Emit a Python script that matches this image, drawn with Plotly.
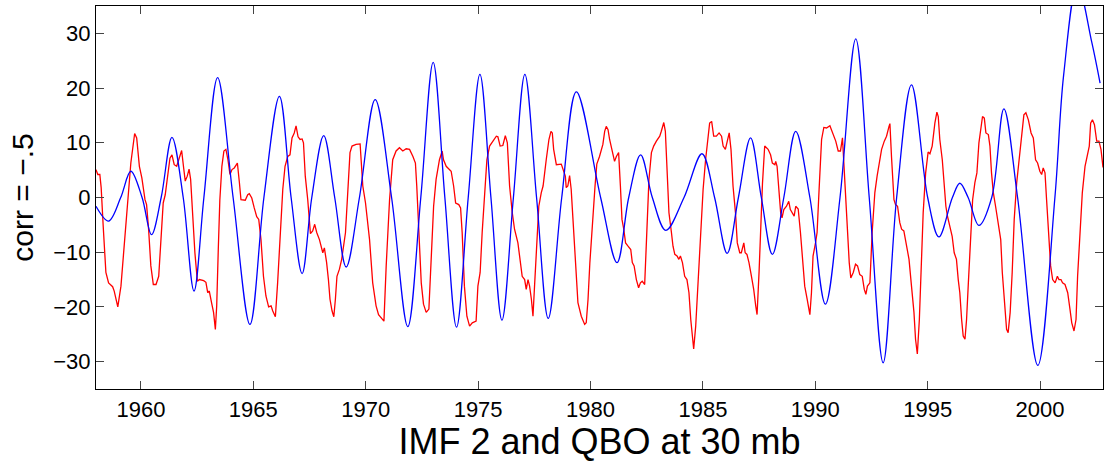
import plotly.graph_objects as go

# IMF 2 (smooth, blue): year, value
blue_year = [1958.0, 1958.56, 1959.1, 1959.55, 1960.05, 1960.47, 1960.9, 1961.38, 1961.88, 1962.36,
             1962.8, 1963.41, 1964.1, 1964.85, 1965.47, 1966.16, 1966.68, 1967.17, 1967.6, 1968.13,
             1968.62, 1969.13, 1969.72, 1970.42, 1971.15, 1971.87, 1972.45, 1973.0, 1973.52, 1974.04,
             1974.56, 1975.08, 1975.57, 1976.06, 1976.57, 1977.08, 1977.6, 1978.12, 1978.72, 1979.37,
             1980.45, 1981.18, 1981.7, 1982.23, 1982.75, 1983.35, 1984.16, 1984.96, 1985.52, 1986.08,
             1986.58, 1987.12, 1987.6, 1988.09, 1988.6, 1989.13, 1989.76, 1990.45, 1991.1, 1991.8,
             1992.4, 1993.02, 1993.62, 1994.28, 1995.0, 1995.5, 1996.1, 1996.43, 1996.8, 1997.28,
             1997.85, 1998.39, 1999.0, 1999.9, 2000.66, 2001.05, 2001.66, 2002.3, 2002.67]
blue_val = [-1.6, -4.3, 0.0, 4.8, 0.0, -6.8, 0.0, 11.0, 0.0, -17.1,
            0.0, 21.9, 0.0, -23.2, 0.0, 18.5, 0.0, -13.9, 0.0, 11.3,
            0.0, -12.7, 0.0, 17.9, 0.0, -23.6, 0.0, 24.7, 0.0, -23.7,
            0.0, 22.5, 0.0, -22.4, 0.0, 22.5, 0.0, -22.1, 0.0, 19.3,
            0.0, -11.9, 0.0, 7.8, 0.0, -6.0, 0.0, 8.0, 0.0, -10.2,
            0.0, 10.9, 0.0, -10.4, 0.0, 12.1, 0.0, -19.5, 0.0, 29.0,
            0.0, -30.2, 0.0, 20.6, 0.0, -7.2, 0.0, 2.6, 0.0, -5.1,
            0.0, 16.2, 0.0, -30.7, 0.0, 22.4, 39.0, 28.4, 20.9]

# QBO at 30 mb (red): year, value
red_year = [1958.0, 1958.08, 1958.17, 1958.23, 1958.32, 1958.44, 1958.56, 1958.74, 1958.81, 1958.97,
            1959.11, 1959.26, 1959.41, 1959.55, 1959.72, 1959.81, 1959.93, 1960.04, 1960.18, 1960.25,
            1960.34, 1960.44, 1960.55, 1960.67, 1960.79, 1960.89, 1960.99, 1961.08, 1961.2, 1961.29,
            1961.38, 1961.48, 1961.59, 1961.71, 1961.81, 1961.9, 1961.97, 1962.06, 1962.14, 1962.21,
            1962.3, 1962.4, 1962.51, 1962.6, 1962.79, 1962.89, 1962.97, 1963.04, 1963.14, 1963.23,
            1963.31, 1963.37, 1963.44, 1963.51, 1963.6, 1963.69, 1963.78, 1963.87, 1963.96, 1964.05,
            1964.15, 1964.29, 1964.38, 1964.45, 1964.64, 1964.75, 1964.82, 1964.93, 1965.04, 1965.15,
            1965.24, 1965.34, 1965.45, 1965.56, 1965.68, 1965.79, 1965.86, 1965.98, 1966.08, 1966.19,
            1966.31, 1966.41, 1966.53, 1966.63, 1966.72, 1966.82, 1966.9, 1966.99, 1967.08, 1967.17,
            1967.23, 1967.31, 1967.42, 1967.54, 1967.64, 1967.73, 1967.82, 1967.94, 1968.03, 1968.09,
            1968.16, 1968.26, 1968.34, 1968.41, 1968.5, 1968.58, 1968.65, 1968.72, 1968.83, 1968.93,
            1969.1, 1969.2, 1969.3, 1969.39, 1969.57, 1969.75, 1969.87, 1969.99, 1970.17, 1970.31,
            1970.46, 1970.57, 1970.68, 1970.81, 1970.91, 1971.06, 1971.2, 1971.35, 1971.5, 1971.65,
            1971.8, 1971.95, 1972.1, 1972.21, 1972.27, 1972.36, 1972.47, 1972.57, 1972.69, 1972.81,
            1972.91, 1973.02, 1973.13, 1973.28, 1973.4, 1973.46, 1973.58, 1973.8, 1973.91, 1974.0,
            1974.14, 1974.22, 1974.29, 1974.39, 1974.5, 1974.62, 1974.74, 1974.91, 1974.99, 1975.09,
            1975.18, 1975.29, 1975.39, 1975.51, 1975.66, 1975.81, 1975.88, 1975.98, 1976.1, 1976.21,
            1976.3, 1976.4, 1976.52, 1976.62, 1976.77, 1976.87, 1976.96, 1977.07, 1977.14, 1977.22,
            1977.29, 1977.37, 1977.44, 1977.51, 1977.62, 1977.7, 1977.81, 1977.89, 1978.03, 1978.15,
            1978.24, 1978.3, 1978.36, 1978.48, 1978.7, 1978.77, 1978.88, 1978.92, 1978.99, 1979.07,
            1979.14, 1979.22, 1979.34, 1979.44, 1979.59, 1979.74, 1979.81, 1979.89, 1979.97, 1980.1,
            1980.2, 1980.28, 1980.4, 1980.55, 1980.63, 1980.7, 1980.78, 1980.85, 1980.93, 1981.0,
            1981.07, 1981.15, 1981.25, 1981.33, 1981.4, 1981.48, 1981.56, 1981.67, 1981.79, 1981.86,
            1981.94, 1982.04, 1982.14, 1982.22, 1982.3, 1982.41, 1982.51, 1982.6, 1982.71, 1982.81,
            1982.93, 1983.08, 1983.15, 1983.26, 1983.33, 1983.41, 1983.49, 1983.6, 1983.67, 1983.75,
            1983.85, 1983.93, 1984.0, 1984.09, 1984.19, 1984.29, 1984.38, 1984.46, 1984.53, 1984.59,
            1984.68, 1984.79, 1984.9, 1985.01, 1985.12, 1985.23, 1985.3, 1985.39, 1985.48, 1985.6,
            1985.72, 1985.83, 1985.9, 1986.0, 1986.08, 1986.17, 1986.25, 1986.34, 1986.45, 1986.53,
            1986.64, 1986.71, 1986.82, 1986.88, 1986.96, 1987.05, 1987.16, 1987.26, 1987.35, 1987.41,
            1987.5, 1987.58, 1987.65, 1987.75, 1987.9, 1988.01, 1988.09, 1988.2, 1988.24, 1988.3,
            1988.39, 1988.46, 1988.52, 1988.6, 1988.72, 1988.82, 1988.89, 1988.98, 1989.06, 1989.13,
            1989.24, 1989.34, 1989.43, 1989.53, 1989.64, 1989.76, 1989.83, 1989.9, 1990.01, 1990.08,
            1990.17, 1990.28, 1990.38, 1990.5, 1990.65, 1990.72, 1990.82, 1990.91, 1991.02, 1991.12,
            1991.21, 1991.31, 1991.42, 1991.51, 1991.58, 1991.69, 1991.79, 1991.88, 1991.98, 1992.09,
            1992.18, 1992.25, 1992.32, 1992.43, 1992.53, 1992.65, 1992.75, 1992.84, 1992.95, 1993.07,
            1993.17, 1993.28, 1993.32, 1993.39, 1993.5, 1993.57, 1993.66, 1993.76, 1993.84, 1993.94,
            1994.06, 1994.17, 1994.28, 1994.39, 1994.46, 1994.54, 1994.63, 1994.73, 1994.8, 1994.91,
            1995.02, 1995.1, 1995.2, 1995.32, 1995.41, 1995.47, 1995.54, 1995.65, 1995.74, 1995.81,
            1995.88, 1995.99, 1996.09, 1996.18, 1996.28, 1996.36, 1996.43, 1996.51, 1996.58, 1996.66,
            1996.73, 1996.81, 1996.91, 1997.0, 1997.1, 1997.19, 1997.28, 1997.37, 1997.44, 1997.52,
            1997.59, 1997.7, 1997.77, 1997.84, 1997.92, 1998.02, 1998.14, 1998.25, 1998.32, 1998.44,
            1998.51, 1998.58, 1998.67, 1998.76, 1998.85, 1998.96, 1999.07, 1999.18, 1999.28, 1999.37,
            1999.48, 1999.6, 1999.7, 1999.8, 1999.89, 1999.99, 2000.07, 2000.14, 2000.22, 2000.29,
            2000.37, 2000.47, 2000.56, 2000.67, 2000.77, 2000.84, 2000.93, 2001.0, 2001.11, 2001.23,
            2001.33, 2001.41, 2001.51, 2001.6, 2001.67, 2001.78, 2001.88, 2002.0, 2002.12, 2002.19,
            2002.25, 2002.33, 2002.42, 2002.52, 2002.62, 2002.71, 2002.8]
red_val = [5.1, 4.2, 4.2, 1.8, -5.2, -13.7, -15.6, -16.3, -17.1, -20.0,
           -16.2, -8.3, -0.4, 6.3, 11.7, 10.9, 5.7, 3.6, -0.4, -1.3,
           -5.8, -12.5, -15.9, -15.9, -14.4, -7.7, -1.0, 0.5, 4.5, 7.2,
           7.8, 6.0, 5.7, 7.5, 8.6, 5.4, 3.0, 3.9, 5.2, 3.3,
           -3.4, -10.1, -15.3, -15.0, -15.2, -15.5, -17.4, -17.1, -19.2, -21.0,
           -24.1, -19.8, -9.5, -0.4, 5.7, 8.5, 8.8, 6.9, 4.2, 5.1,
           5.4, 6.3, 2.7, -0.4, -0.5, 0.5, 0.7, -0.1, -1.9, -3.5,
           -4.0, -7.7, -14.4, -18.0, -20.0, -19.8, -20.7, -21.8, -15.6, -6.4,
           1.5, 5.7, 7.5, 7.8, 10.9, 11.8, 13.1, 11.1, 10.6, 10.7,
           10.0, 3.9, -0.4, -6.6, -6.1, -4.9, -6.4, -7.7, -8.9, -10.1,
           -9.2, -11.9, -15.0, -18.6, -20.7, -21.8, -18.6, -14.4, -13.1, -11.3,
           -6.4, 2.1, 8.2, 9.4, 9.7, 9.8, 2.1, -1.0, -7.7, -15.6,
           -19.8, -21.4, -22.0, -22.6, -12.5, -0.4, 6.9, 8.5, 9.1, 8.5,
           8.9, 8.8, 7.5, 6.3, 2.1, -6.4, -15.6, -19.5, -21.0, -20.4,
           -12.5, -1.6, 3.3, 6.9, 8.5, 6.9, 5.7, 4.8, 2.1, -1.0,
           -1.3, -1.9, -6.4, -16.2, -21.7, -23.5, -22.9, -22.6, -16.2, -13.7,
           -6.4, 0.9, 6.9, 9.4, 10.3, 11.2, 11.1, 9.4, 9.5, 11.3,
           10.0, 2.1, -2.8, -5.8, -8.3, -11.3, -14.4, -15.0, -16.8, -15.0,
           -16.2, -18.6, -21.7, -16.2, -6.4, -1.6, 0.9, 2.1, 6.9, 10.6,
           12.1, 11.8, 8.8, 6.0, 6.1, 5.1, 3.9, 1.8, 2.1, 4.0,
           1.5, -4.0, -13.1, -19.2, -21.7, -23.2, -22.9, -18.6, -12.0, -3.0,
           2.0, 6.1, 7.5, 9.7, 12.1, 13.0, 12.4, 10.6, 9.1, 8.2,
           6.6, 7.5, 8.2, 2.1, -4.0, -5.8, -8.3, -8.9, -9.5, -11.9,
           -12.5, -15.0, -16.5, -15.6, -15.3, -15.9, -5.2, 3.3, 8.2, 9.4,
           10.3, 11.2, 12.1, 13.7, 12.1, 4.5, -2.8, -6.4, -8.9, -10.4,
           -10.7, -11.3, -10.7, -11.9, -14.4, -15.0, -17.4, -22.3, -25.9, -27.7,
           -23.5, -15.6, -6.4, 1.5, 6.9, 11.8, 13.6, 13.9, 11.2, 11.2,
           11.8, 11.2, 9.4, 8.8, 10.0, 11.8, 8.8, 2.1, -2.8, -8.3,
           -10.1, -10.1, -8.3, -10.1, -10.4, -11.9, -14.4, -16.8, -19.8, -21.4,
           -13.5, -3.0, 2.5, 9.4, 8.8, 7.8, 6.3, 6.0, 6.6, 5.7,
           0.9, -2.8, -3.7, -2.2, -1.6, -0.7, -2.2, -2.8, -3.4, -1.6,
           -2.1, -6.4, -11.3, -16.2, -18.6, -21.4, -17.4, -10.7, -8.3, -6.4,
           1.5, 10.6, 12.8, 12.7, 13.1, 12.4, 11.2, 10.3, 8.5, 8.5,
           10.9, 3.3, -5.2, -11.9, -14.7, -13.7, -12.2, -12.5, -14.1, -14.4,
           -16.8, -17.7, -16.2, -15.6, -6.4, 0.9, 3.9, 6.3, 8.8, 10.3,
           11.2, 13.0, 13.5, 7.5, -0.4, -1.3, -1.6, -4.6, -5.8, -6.1,
           -8.9, -11.3, -16.2, -21.0, -25.9, -28.6, -22.3, -12.5, -2.8, 4.5,
           8.3, 8.0, 9.4, 13.6, 15.6, 14.8, 10.6, 6.9, 2.1, -1.6,
           -3.4, -5.2, -7.1, -10.1, -11.3, -15.0, -17.4, -22.3, -25.3, -25.9,
           -22.3, -15.6, -6.4, -0.4, 2.7, 4.5, 10.0, 13.0, 14.8, 14.5,
           11.8, 11.5, 9.4, 4.5, 0.9, -1.6, -5.2, -7.7, -13.7, -19.8,
           -24.1, -24.7, -21.0, -13.7, -4.0, 2.7, 6.9, 10.6, 15.1, 15.5,
           14.2, 11.8, 10.9, 6.9, 6.3, 4.8, 4.2, 5.4, 4.5, -0.4,
           -6.4, -12.5, -15.0, -15.6, -14.4, -15.0, -15.0, -15.6, -15.9, -17.4,
           -20.4, -22.9, -24.4, -22.3, -14.4, -6.4, 0.9, 5.7, 8.2, 9.4,
           13.6, 14.2, 13.3, 10.3, 10.3, 8.8, 5.5]

x_ticks = [1960, 1965, 1970, 1975, 1980, 1985, 1990, 1995, 2000]
y_ticks = [-30, -20, -10, 0, 10, 20, 30]

fig = go.Figure()
fig.add_trace(go.Scatter(x=red_year, y=red_val, mode="lines",
                         line=dict(color="#ff0000", width=1.3), hoverinfo="skip"))
fig.add_trace(go.Scatter(x=blue_year, y=blue_val, mode="lines",
                         line=dict(color="#0000ff", width=1.3, shape="spline", smoothing=1.0),
                         hoverinfo="skip"))

axis_common = dict(showline=True, linecolor="black", linewidth=1.2, mirror="ticks",
                   ticks="inside", ticklen=8, tickwidth=1, tickcolor="#444444",
                   showgrid=False, zeroline=False, tickfont=dict(size=22, color="black"))

fig.update_layout(
    width=1104, height=465,
    margin=dict(l=96, r=1, t=6, b=76),
    paper_bgcolor="white", plot_bgcolor="white",
    showlegend=False,
    font=dict(family="Liberation Sans, Arial, sans-serif", color="black"),
    xaxis=dict(range=[1958, 2002.8], tickvals=x_ticks,
               title=dict(text="IMF 2 and QBO at 30 mb", font=dict(size=36), standoff=0),
               **axis_common),
    yaxis=dict(range=[-35, 35], tickvals=y_ticks,
               title=dict(text="corr = \u2212.5", font=dict(size=30), standoff=10),
               **axis_common),
)

fig.write_html("out.html")
